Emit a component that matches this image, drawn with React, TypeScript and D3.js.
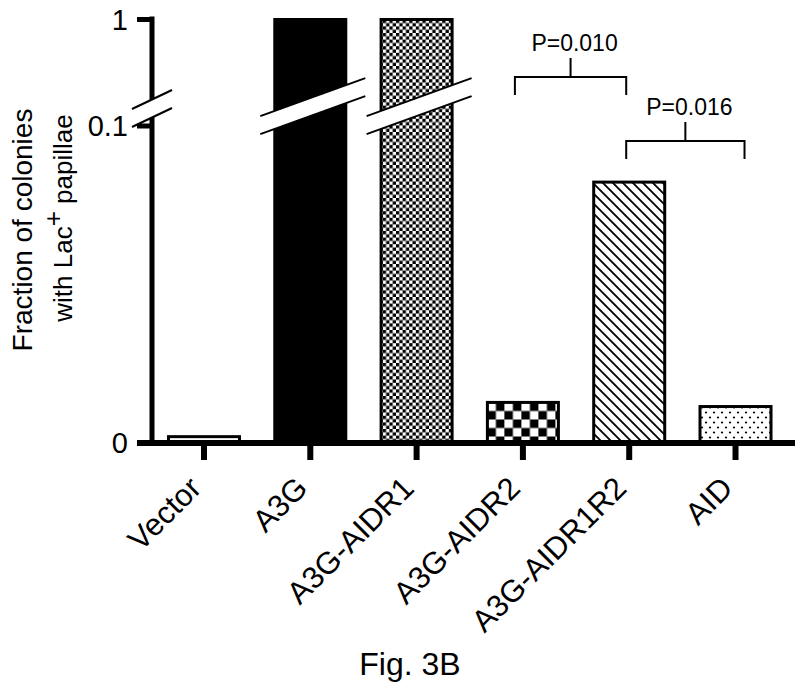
import React from 'react';
import * as d3 from 'd3';

// chart data
const categories = ['Vector', 'A3G', 'A3G-AIDR1', 'A3G-AIDR2', 'A3G-AIDR1R2', 'AID'];
const fractions = [0.002, 1, 1, 0.0128, 0.0823, 0.0115];
const fills = ['white', 'black', 'url(#fineCheck)', 'url(#coarseCheck)', 'url(#diag)', 'url(#dots)'];
const yTicks = [0, 0.1, 1];
const yTickLabels = ['0', '0.1', '1'];
const comparisons = [
	{ from: 'A3G-AIDR2', to: 'A3G-AIDR1R2', label: 'P=0.010' },
	{ from: 'A3G-AIDR1R2', to: 'AID', label: 'P=0.016' },
];

const FONT = "'Liberation Sans', Arial, Helvetica, sans-serif";
const W = 800;
const H = 690;

const axisX = 152;
const axisY = 443;
const breakAt = 0.1;

const x = d3.scaleBand<string>()
	.domain(categories)
	.range([axisX, 787.5])
	.paddingInner(0.332)
	.paddingOuter(0.155);

// broken y axis: linear 0..0.1 below the break, compressed segment above
const yLow = d3.scaleLinear().domain([0, breakAt]).range([axisY, 126]);
const yHigh = d3.scaleLinear().domain([breakAt, 1]).range([100, 19.5]);
const y = (v: number) => (v <= breakAt ? yLow(v) : yHigh(v));

// bracket heights above the compared bars (layout only)
const bracketY = [77, 141];

export default function App() {
	const bw = x.bandwidth();
	const cx = (c: string) => (x(c) as number) + bw / 2;

	return (
		<svg
			width={W}
			height={H}
			style={{ position: 'absolute', left: 0, top: 0, background: 'white' }}
			fontFamily={FONT}
		>
			<defs>
				<pattern id="fineCheck" patternUnits="userSpaceOnUse" width={6.6} height={6.6}>
					<rect width={6.6} height={6.6} fill="white" />
					<rect width={3.3} height={3.3} fill="black" />
					<rect x={3.3} y={3.3} width={3.3} height={3.3} fill="black" />
				</pattern>
				<pattern id="coarseCheck" patternUnits="userSpaceOnUse" width={17} height={17} x={x('A3G-AIDR2')} y={402.5}>
					<rect width={17} height={17} fill="white" />
					<rect x={8.5} width={8.5} height={8.5} fill="black" />
					<rect y={8.5} width={8.5} height={8.5} fill="black" />
				</pattern>
				<pattern id="diag" patternUnits="userSpaceOnUse" width={10} height={10}>
					<rect width={10} height={10} fill="white" />
					<path d="M-1,-1 L11,11 M-1,9 L1,11 M9,-1 L11,1" stroke="black" strokeWidth={1.8} />
				</pattern>
				<pattern id="dots" patternUnits="userSpaceOnUse" width={8} height={10}>
					<rect width={8} height={10} fill="white" />
					<circle cx={2} cy={2.5} r={1.1} fill="black" />
					<circle cx={6} cy={7.5} r={1.1} fill="black" />
				</pattern>
			</defs>

			{/* bars */}
			{categories.map((c, i) => (
				<rect
					key={c}
					x={x(c)}
					y={y(fractions[i])}
					width={bw}
					height={axisY - y(fractions[i])}
					fill={fills[i]}
					stroke="black"
					strokeWidth={3}
				/>
			))}

			{/* breaks through the tall bars */}
			{categories.filter((c, i) => fractions[i] > breakAt).map((c) => {
				const m = cx(c);
				const x0 = m - 50;
				const x1 = m + 55;
				const s = -0.362;
				const yc = 107;
				const up = (xx: number) => yc - 9 + s * (xx - m);
				const lo = (xx: number) => yc + 9 + s * (xx - m);
				return (
					<g key={`br-${c}`}>
						<polygon
							points={`${x0},${up(x0)} ${x1},${up(x1)} ${x1},${lo(x1)} ${x0},${lo(x0)}`}
							fill="white"
						/>
						<line x1={x0} y1={up(x0)} x2={x1} y2={up(x1)} stroke="black" strokeWidth={2} />
						<line x1={x0} y1={lo(x0)} x2={x1} y2={lo(x1)} stroke="black" strokeWidth={2} />
					</g>
				);
			})}

			{/* y axis */}
			<line x1={axisX} y1={axisY} x2={axisX} y2={16.5} stroke="black" strokeWidth={5} />
			{yTicks.map((t, i) => (
				<g key={`yt-${t}`}>
					<line x1={137} y1={y(t)} x2={axisX} y2={y(t)} stroke="black" strokeWidth={5} />
					<text x={128} y={y(t)} dy="0.36em" textAnchor="end" fontSize={29}>
						{yTickLabels[i]}
					</text>
				</g>
			))}
			{(() => {
				const yc = 108.5;
				const s = -0.475;
				const x0 = axisX - 20;
				const x1 = axisX + 20;
				const up = (xx: number) => yc - 9 + s * (xx - axisX);
				const lo = (xx: number) => yc + 9 + s * (xx - axisX);
				return (
					<g>
						<polygon
							points={`${x0},${up(x0)} ${x1},${up(x1)} ${x1},${lo(x1)} ${x0},${lo(x0)}`}
							fill="white"
						/>
						<line x1={x0} y1={up(x0)} x2={x1} y2={up(x1)} stroke="black" strokeWidth={2} />
						<line x1={x0} y1={lo(x0)} x2={x1} y2={lo(x1)} stroke="black" strokeWidth={2} />
					</g>
				);
			})()}

			{/* x axis */}
			<line x1={137} y1={axisY} x2={795} y2={axisY} stroke="black" strokeWidth={6} />
			{categories.map((c) => (
				<g key={`xt-${c}`}>
					<line x1={cx(c)} y1={axisY} x2={cx(c)} y2={460} stroke="black" strokeWidth={6} />
					<text
						transform={`translate(${cx(c) - 1},${490}) rotate(-45)`}
						textAnchor="end"
						fontSize={31}
					>
						{c}
					</text>
				</g>
			))}

			{/* y title */}
			<text transform="translate(32,230) rotate(-90)" textAnchor="middle" fontSize={28}>
				Fraction of colonies
			</text>
			<text transform="translate(72,218) rotate(-90)" textAnchor="middle" fontSize={26}>
				with Lac<tspan dy={-10}>+</tspan><tspan dy={10}> papillae</tspan>
			</text>

			{/* significance brackets */}
			{comparisons.map((cmp, i) => {
				const a = cx(cmp.from) - (i === 0 ? 8 : 3);
				const b = cx(cmp.to) + (i === 0 ? -3 : 9);
				const by = bracketY[i];
				const mid = (a + b) / 2;
				return (
					<g key={cmp.label} fill="none" stroke="black" strokeWidth={2}>
						<path d={`M${a},${by + 18} V${by} H${b} V${by + 18}`} />
						<line x1={mid} y1={by} x2={mid} y2={by - 19} />
						<text x={mid + 4} y={by - 26} textAnchor="middle" fontSize={23} fill="black" stroke="none">
							{cmp.label}
						</text>
					</g>
				);
			})}

			<text x={410} y={675} textAnchor="middle" fontSize={32}>
				Fig. 3B
			</text>
		</svg>
	);
}
